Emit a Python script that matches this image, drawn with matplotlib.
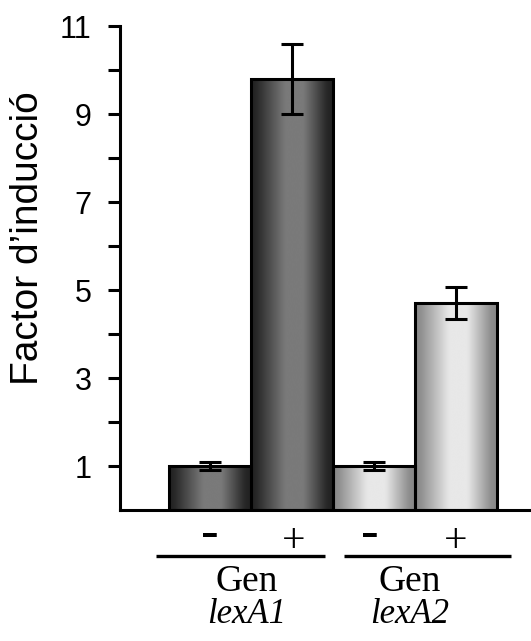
import numpy as np
import matplotlib
matplotlib.use("Agg")
import matplotlib.pyplot as plt
import matplotlib.transforms as mtransforms

# ---- data ----
bar_values = [1.0, 9.8, 1.0, 4.7]
bar_errors = [0.1, 0.8, 0.1, 0.37]
treatment_labels = ['-', '+', '-', '+']
group_names = ['Gen', 'Gen']
gene_names = ['lexA1', 'lexA2']
y_ticks = [1, 2, 3, 4, 5, 6, 7, 8, 9, 10, 11]
y_ticklabels = ['1', '', '3', '', '5', '', '7', '', '9', '', '11']
y_label = 'Factor d\u2019inducci\u00f3'

# gradient colour ranges (edge grey, centre grey) per group
group_shades = [(0.13, 0.48), (0.53, 0.91)]

fig = plt.figure(figsize=(5.31, 6.41), dpi=100)
ax = fig.add_axes([120 / 531, (641 - 510) / 641, 411 / 531, 484 / 641])

x = np.arange(len(bar_values))
bars = ax.bar(x, bar_values, width=1.0, color='none', edgecolor='black',
              linewidth=2.2, zorder=3)

t = np.linspace(0, 1, 400)
profile = np.interp(t, [0, 0.06, 0.42, 0.64, 0.93, 1.0],
                    [0, 0.06, 1, 1, 0.06, 0])
k = np.hanning(41)
k /= k.sum()
profile = np.convolve(np.pad(profile, 20, mode='edge'), k, mode='valid')

for i, patch in enumerate(bars.patches):
    lo, hi = group_shades[i // 2]
    grad = (lo + (hi - lo) * profile)[None, :]
    x0 = patch.get_x()
    w = patch.get_width()
    h = patch.get_height()
    ax.imshow(grad, extent=[x0, x0 + w, 0, h], aspect='auto', cmap='gray',
              vmin=0, vmax=1, zorder=2, interpolation='bilinear')

ax.errorbar(x, bar_values, yerr=bar_errors, fmt='none', ecolor='black',
            elinewidth=2.2, capsize=8, capthick=2.2, zorder=4)

ax.set_xlim(-90 / 82, (531 - 210) / 82)
ax.set_ylim(0, 11)
ax.set_aspect('auto')

for s in ['top', 'right']:
    ax.spines[s].set_visible(False)
ax.spines['left'].set_bounds(0, 11)
ax.spines['left'].set_linewidth(2.2)
ax.spines['bottom'].set_linewidth(2.2)
ax.spines['left'].set_capstyle('projecting')

ax.set_xticks([])
ax.set_yticks(y_ticks)
ax.set_yticklabels(y_ticklabels, fontsize=22, fontfamily='Liberation Sans')
ax.tick_params(axis='y', direction='out', length=8.6, width=2.2, pad=12)

ax.text(-92 / 411, 0.562, y_label, transform=ax.transAxes, rotation=90,
        ha='center', va='center', fontsize=28, fontfamily='Liberation Sans')

blend = mtransforms.blended_transform_factory(ax.transData, ax.transAxes)

def ypx(p):
    return (510 - p) / 484

# treatment signs
sign_style = {
    '-': dict(fontsize=38, fontfamily='Liberation Serif', base=548),
    '+': dict(fontsize=30, fontfamily='Liberation Serif', base=552),
}
sign_x = [0.0, 1.02, 1.95, 2.99]
for xx, lab in zip(sign_x, treatment_labels):
    st = sign_style[lab]
    ax.text(xx, ypx(st['base']), lab, transform=blend, ha='center',
            va='baseline', fontsize=st['fontsize'],
            fontfamily=st['fontfamily'], clip_on=False)

# group lines and labels
line_spans = [(-0.66, 1.40), (1.63, 3.67)]
label_x = [0.45, 2.44]
for g, (gname, gene) in enumerate(zip(group_names, gene_names)):
    a, b = line_spans[g]
    ax.plot([a, b], [ypx(556), ypx(556)], transform=blend, color='black',
            lw=2.4, clip_on=False, solid_capstyle='butt')
    ax.text(label_x[g], ypx(591), gname, transform=blend, ha='center',
            va='baseline', fontsize=27, fontfamily='Liberation Serif',
            clip_on=False)
    ax.text(label_x[g], ypx(623), gene, transform=blend, ha='center',
            va='baseline', fontsize=25, fontfamily='Liberation Serif',
            style='italic', clip_on=False)

fig.savefig('out.png', dpi=100)
